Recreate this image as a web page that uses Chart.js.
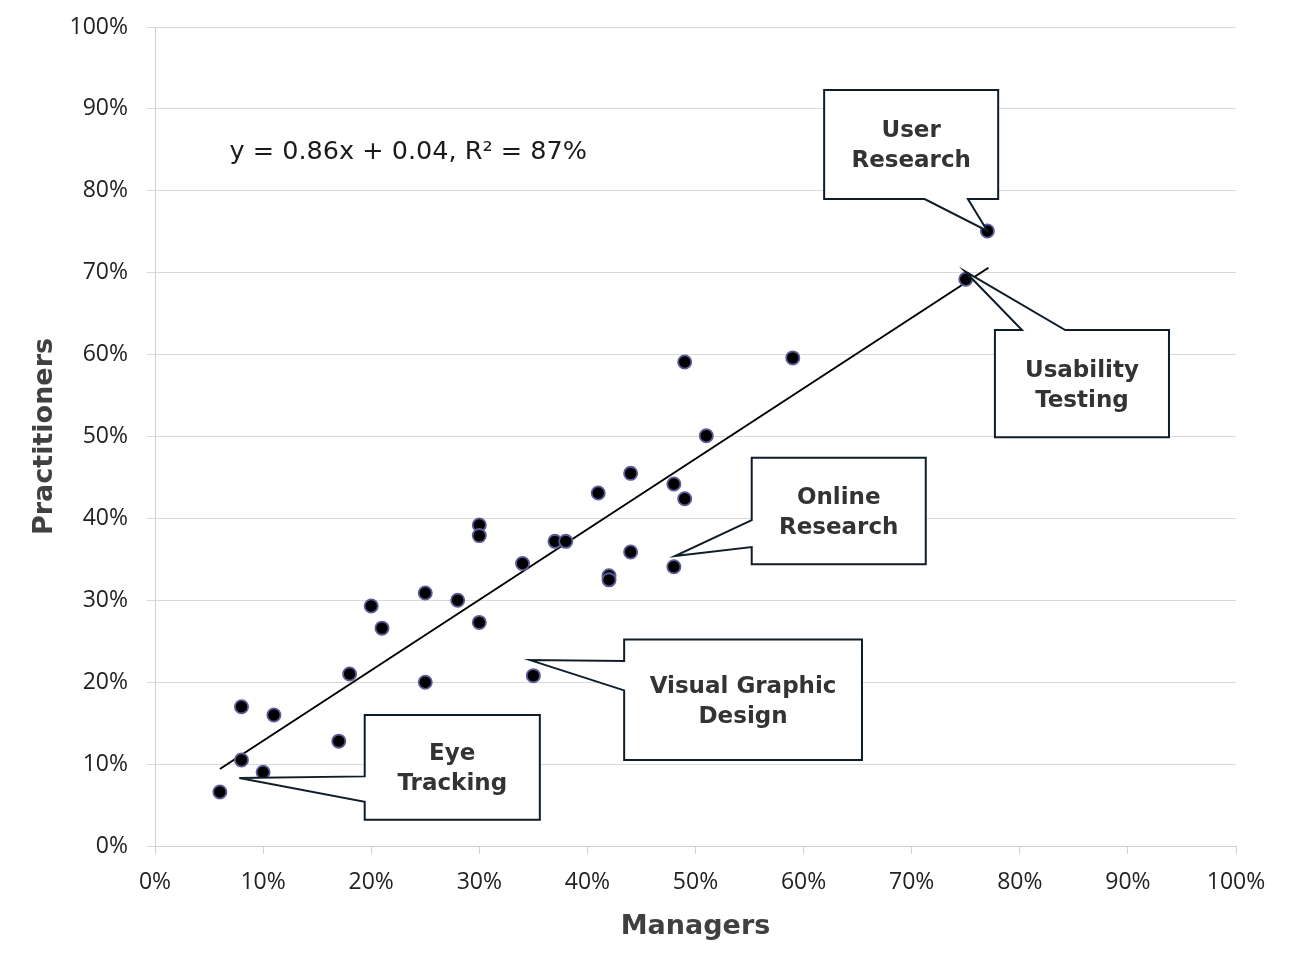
<!DOCTYPE html>
<html><head><meta charset="utf-8">
<script src="https://cdn.jsdelivr.net/npm/chart.js@4"></script>
<style>html,body{margin:0;padding:0;background:#fff}#wrap{width:1290px;height:966px;position:relative}</style>
</head><body><div id="wrap"><canvas id="c"></canvas></div>
<script>
// ---- data (percent) ----
const managers      = [6, 8, 8, 10, 11, 17, 18, 20, 21, 25, 25, 28, 30, 30, 30, 34, 35, 37, 38, 41, 42, 42, 44, 44, 48, 48, 49, 49, 51, 59, 75, 77];
const practitioners = [6.6, 17.0, 10.5, 9.0, 16.0, 12.8, 21.0, 29.3, 26.6, 30.9, 20.0, 30.0, 39.2, 37.9, 27.3, 34.5, 20.8, 37.2, 37.2, 43.1, 33.0, 32.5, 45.5, 35.9, 44.2, 34.1, 59.1, 42.4, 50.1, 59.6, 69.2, 75.1];
const trendX = [6.0, 77.1];
const trendY = [9.4, 70.6];
const xTickValues = [0, 10, 20, 30, 40, 50, 60, 70, 80, 90, 100];
const yTickValues = [0, 10, 20, 30, 40, 50, 60, 70, 80, 90, 100];
const equationText = 'y = 0.86x + 0.04, R\u00B2 = 87%';
const calloutLabels = [['User', 'Research'], ['Usability', 'Testing'], ['Online', 'Research'], ['Visual Graphic', 'Design'], ['Eye', 'Tracking']];

// ---- callout geometry (data units) ----
const calloutGeom = [
  {box: [61.9, 78.0, 92.3, 79.0], side: 'bottom', base: [71.2, 75.2], tip: [77.0, 75.1]},
  {box: [77.7, 93.8, 63.0, 49.9], side: 'top',    base: [80.2, 84.2], tip: [74.9, 70.2]},
  {box: [55.2, 71.3, 47.4, 34.4], side: 'left',   base: [36.5, 39.8], tip: [48.1, 35.4]},
  {box: [43.4, 65.4, 25.2, 10.5], side: 'left',   base: [19.0, 22.6], tip: [34.7, 22.7]},
  {box: [19.4, 35.6, 16.0, 3.2],  side: 'left',   base: [5.4, 8.5],   tip: [7.8, 8.3]}
];
const equationPos = [6.9, 84.7];

const TICKFONT = "'Open Sans', 'Noto Sans', sans-serif";
const LABELFONT = "'DejaVu Sans', 'Noto Sans', sans-serif";
Chart.defaults.font.family = TICKFONT;

const annotPlugin = {
  id: 'annot',
  afterDatasetsDraw(chart) {
    const {ctx, scales: {x, y}} = chart;
    ctx.save();
    // equation
    ctx.fillStyle = '#1a1a1a';
    ctx.font = "25.5px " + LABELFONT;
    ctx.textAlign = 'left';
    ctx.textBaseline = 'middle';
    ctx.fillText(equationText, x.getPixelForValue(equationPos[0]), y.getPixelForValue(equationPos[1]));
    // callouts
    calloutGeom.forEach((c, i) => {
      const L = x.getPixelForValue(c.box[0]), R = x.getPixelForValue(c.box[1]);
      const T = y.getPixelForValue(c.box[2]), B = y.getPixelForValue(c.box[3]);
      const tx = x.getPixelForValue(c.tip[0]), ty = y.getPixelForValue(c.tip[1]);
      ctx.beginPath();
      if (c.side === 'bottom') {
        const b0 = x.getPixelForValue(c.base[0]), b1 = x.getPixelForValue(c.base[1]);
        ctx.moveTo(L, T); ctx.lineTo(R, T); ctx.lineTo(R, B);
        ctx.lineTo(b1, B); ctx.lineTo(tx, ty); ctx.lineTo(b0, B); ctx.lineTo(L, B);
      } else if (c.side === 'top') {
        const b0 = x.getPixelForValue(c.base[0]), b1 = x.getPixelForValue(c.base[1]);
        ctx.moveTo(L, T); ctx.lineTo(b0, T); ctx.lineTo(tx, ty); ctx.lineTo(b1, T);
        ctx.lineTo(R, T); ctx.lineTo(R, B); ctx.lineTo(L, B);
      } else {
        const b0 = y.getPixelForValue(c.base[0]), b1 = y.getPixelForValue(c.base[1]);
        ctx.moveTo(L, T); ctx.lineTo(R, T); ctx.lineTo(R, B); ctx.lineTo(L, B);
        ctx.lineTo(L, b0); ctx.lineTo(tx, ty); ctx.lineTo(L, b1);
      }
      ctx.closePath();
      ctx.fillStyle = '#ffffff';
      ctx.fill();
      ctx.lineWidth = 2;
      ctx.lineJoin = 'miter';
      ctx.strokeStyle = '#0f1d2b';
      ctx.stroke();
      // text
      ctx.fillStyle = '#333333';
      ctx.font = "bold 23px " + LABELFONT;
      ctx.textAlign = 'center';
      ctx.textBaseline = 'middle';
      const lines = calloutLabels[i];
      const cx = (L + R) / 2, cy = (T + B) / 2 + 2, lh = 30;
      lines.forEach((t, k) => {
        ctx.fillText(t, cx, cy + (k - (lines.length - 1) / 2) * lh);
      });
    });
    ctx.restore();
  }
};

new Chart(document.getElementById('c'), {
  type: 'scatter',
  data: {
    datasets: [
      {
        type: 'line',
        data: trendX.map((v, i) => ({x: v, y: trendY[i]})),
        borderColor: '#000000',
        borderWidth: 2,
        pointRadius: 0,
        fill: false,
        order: 2
      },
      {
        data: managers.map((v, i) => ({x: v, y: practitioners[i]})),
        backgroundColor: '#000000',
        borderColor: '#5c5c9a',
        borderWidth: 1.8,
        pointRadius: 6.6,
        order: 1
      }
    ]
  },
  options: {
    responsive: true,
    maintainAspectRatio: false,
    animation: false,
    layout: {padding: {left: 0, right: 54, top: 27, bottom: 0}},
    plugins: {legend: {display: false}, tooltip: {enabled: false}},
    scales: {
      x: {
        type: 'linear', min: 0, max: 100,
        afterBuildTicks: s => { s.ticks = xTickValues.map(v => ({value: v})); },
        afterFit: s => { s.height = 120; s.paddingLeft = 0; s.paddingRight = 0; s.paddingTop = 0; s.paddingBottom = 0; },
        ticks: {callback: v => v + '%', font: {size: 23}, color: '#222222', padding: 15, maxRotation: 0, autoSkip: false},
        grid: {drawOnChartArea: false, color: '#d0d0d0', tickLength: 8},
        border: {color: '#d0d0d0'},
        title: {display: true, text: 'Managers', font: {family: LABELFONT, size: 27, weight: 'bold'}, color: '#404040', padding: {top: 0, bottom: 23}}
      },
      y: {
        type: 'linear', min: 0, max: 100,
        afterBuildTicks: s => { s.ticks = yTickValues.map(v => ({value: v})); },
        afterFit: s => { s.width = 155; s.paddingTop = 0; s.paddingBottom = 0; s.paddingLeft = 0; s.paddingRight = 0; },
        ticks: {callback: v => v + '%', font: {size: 23}, color: '#222222', padding: 19, autoSkip: false},
        grid: {color: '#d9d9d9', tickLength: 8},
        border: {color: '#d0d0d0'},
        title: {display: true, text: 'Practitioners', font: {family: LABELFONT, size: 27, weight: 'bold'}, color: '#404040', padding: {top: 29, bottom: 0}}
      }
    }
  },
  plugins: [annotPlugin]
});
</script></body></html>
